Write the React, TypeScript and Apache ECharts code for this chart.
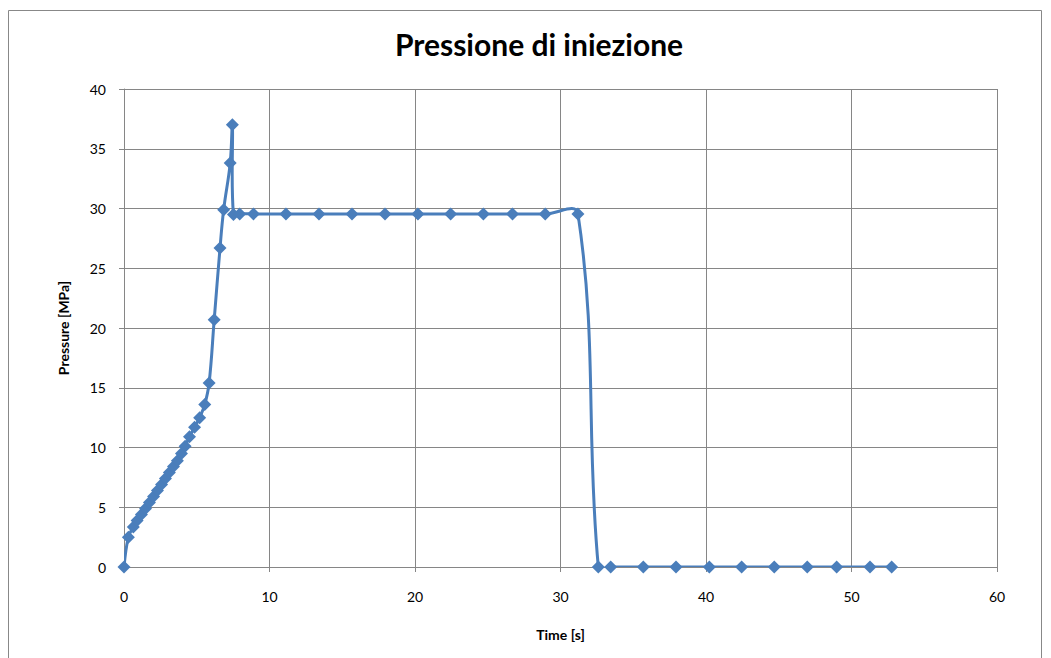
import React, { useEffect, useRef } from "react";
import * as echarts from "echarts";

const titleText = "Pressione di iniezione";
const xAxisName = "Time [s]";
const yAxisName = "Pressure [MPa]";

const timeS: number[] = [
  0, 0.3, 0.64, 0.9, 1.2, 1.48, 1.75, 2.03, 2.3, 2.58, 2.85, 3.12, 3.4, 3.67,
  3.95, 4.2, 4.5, 4.85, 5.2, 5.55, 5.85, 6.2, 6.6, 6.85, 7.3, 7.45, 7.52,
  7.95, 8.9, 11.13, 13.4, 15.67, 17.94, 20.2, 22.45, 24.7, 26.7, 28.95, 31.2,
  32.6, 33.45, 35.69, 37.94, 40.23, 42.45, 44.69, 46.96, 48.98, 51.27, 52.76,
];
const pressureMPa: number[] = [
  0, 2.5, 3.35, 3.9, 4.4, 4.9, 5.4, 5.9, 6.4, 6.9, 7.4, 7.9, 8.4, 8.9,
  9.5, 10.1, 10.9, 11.7, 12.5, 13.6, 15.4, 20.7, 26.7, 29.9, 33.8, 37.0, 29.5,
  29.55, 29.55, 29.55, 29.55, 29.55, 29.55, 29.55, 29.55, 29.55, 29.55, 29.55, 29.55,
  0, 0, 0, 0, 0, 0, 0, 0, 0, 0, 0,
];

const LINE_COLOR = "#4a7ebb";

export default function App() {
  const ref = useRef<HTMLDivElement>(null);
  useEffect(() => {
    if (!ref.current) return;
    const chart = echarts.init(ref.current, undefined, { renderer: "svg" });
    const data = timeS.map((t, i) => [t, pressureMPa[i]]);
    const font = "Lato, 'Open Sans', sans-serif";
    chart.setOption({
      animation: false,
      backgroundColor: "#ffffff",
      title: {
        text: titleText,
        left: 534,
        top: 24,
        textAlign: "center",
        textStyle: { fontFamily: font, fontSize: 30, fontWeight: "bold", color: "#000" },
      },
      graphic: [
        {
          type: "rect",
          shape: { x: 8.5, y: 10.5, width: 1033, height: 700 },
          style: { fill: "none", stroke: "#888888", lineWidth: 1 },
          silent: true,
        },
      ],
      grid: { left: 124, right: 54, top: 89, bottom: 91, containLabel: false },
      xAxis: {
        type: "value",
        min: 0,
        max: 60,
        interval: 10,
        name: xAxisName,
        nameLocation: "middle",
        nameGap: 60,
        nameTextStyle: { fontFamily: font, fontSize: 14, fontWeight: "bold", color: "#000" },
        axisLine: { show: true, lineStyle: { color: "#868686", width: 1 } },
        axisTick: { show: true, length: 5, lineStyle: { color: "#868686" } },
        axisLabel: { fontFamily: font, fontSize: 14, color: "#000", margin: 22 },
        splitLine: { show: true, lineStyle: { color: "#868686", width: 1 } },
      },
      yAxis: {
        type: "value",
        min: 0,
        max: 40,
        interval: 5,
        name: yAxisName,
        nameLocation: "middle",
        nameGap: 54,
        nameRotate: 90,
        nameTextStyle: { fontFamily: font, fontSize: 14, fontWeight: "bold", color: "#000" },
        axisLine: { show: true, lineStyle: { color: "#868686", width: 1 } },
        axisTick: { show: true, length: 5, lineStyle: { color: "#868686" } },
        axisLabel: { fontFamily: font, fontSize: 14, color: "#000", margin: 18 },
        splitLine: { show: true, lineStyle: { color: "#868686", width: 1 } },
      },
      series: [
        {
          type: "custom",
          coordinateSystem: "cartesian2d",
          clip: true,
          data: [[0, 0]],
          silent: true,
          z: 2,
          renderItem: (params: any, api: any) => {
            if (params.dataIndex !== 0) return null;
            const points = data.map((d) => api.coord(d));
            return {
              type: "polyline",
              shape: { points, smooth: 0.4 },
              style: { stroke: LINE_COLOR, lineWidth: 3, fill: "none" },
            };
          },
        },
        {
          type: "scatter",
          data,
          symbol: "diamond",
          symbolSize: 13,
          z: 3,
          itemStyle: { color: LINE_COLOR, opacity: 1 },
        },
      ],
    });
    return () => chart.dispose();
  }, []);
  return (
    <div
      ref={ref}
      style={{ position: "fixed", left: 0, top: 0, width: 1051, height: 658 }}
    />
  );
}
